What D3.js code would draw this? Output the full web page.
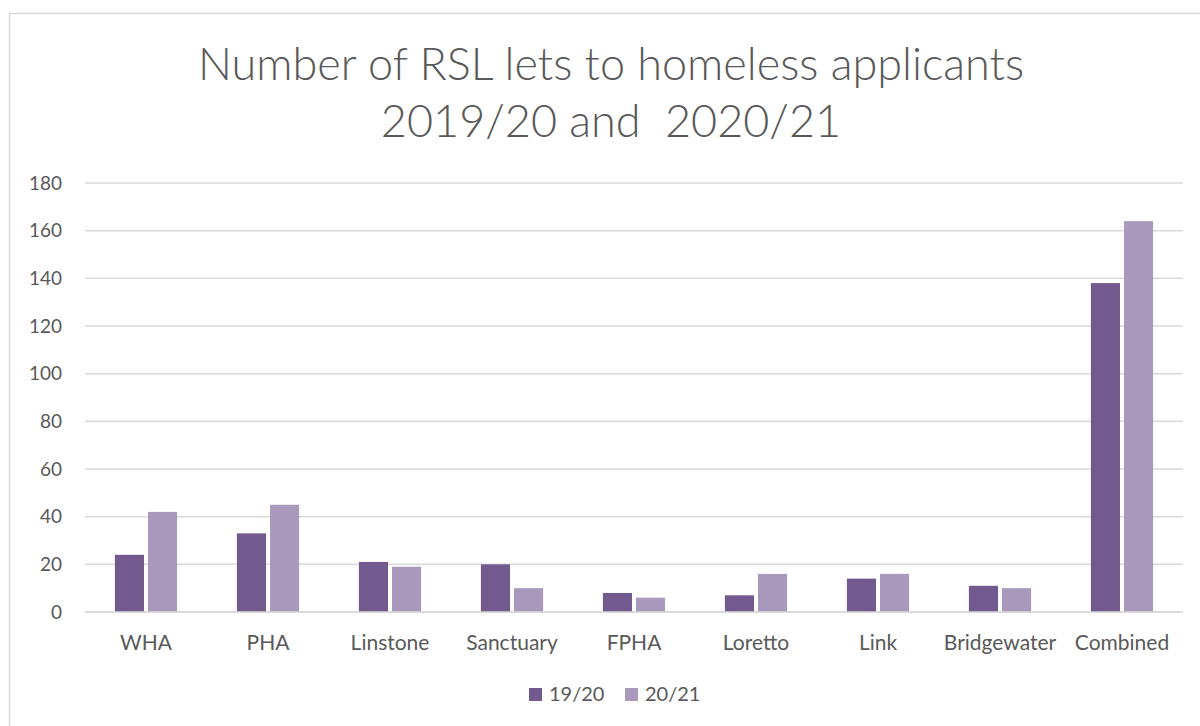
<!DOCTYPE html>
<html>
<head>
<meta charset="utf-8">
<script src="https://cdn.jsdelivr.net/npm/d3@7"></script>
<style>
  body { margin: 0; background: #fff; }
  text { font-family: Lato, "Open Sans", sans-serif; fill: #595959; }
</style>
</head>
<body>
<svg id="chart" width="1200" height="726"></svg>
<script>
// Values
var categories = ["WHA", "PHA", "Linstone", "Sanctuary", "FPHA", "Loretto", "Link", "Bridgewater", "Combined"];
var seriesNames = ["19/20", "20/21"];
var values1920 = [24, 33, 21, 20, 8, 7, 14, 11, 138];
var values2021 = [42, 45, 19, 10, 6, 16, 16, 10, 164];
var yTicks = [0, 20, 40, 60, 80, 100, 120, 140, 160, 180];
var seriesColors = ["#725a8f", "#a99abd"];
var titleLines = ["Number of RSL lets to homeless applicants", "2019/20 and  2020/21"];

var plot = {left: 85, right: 1183, top: 183, bottom: 612};

var svg = d3.select("#chart");

// chart area border (only top/left visible in frame)
svg.append("rect")
  .attr("x", 9.5).attr("y", 13.5)
  .attr("width", 1300).attr("height", 900)
  .attr("fill", "none")
  .attr("stroke", "#d9d9d9")
  .attr("stroke-width", 1.5);

// title
svg.selectAll(".title")
  .data(titleLines)
  .enter().append("text")
  .attr("class", "title")
  .attr("x", 611)
  .attr("y", function(d, i) { return 80 + i * 57; })
  .attr("text-anchor", "middle")
  .style("font-size", "45px")
  .style("font-weight", 300)
  .style("white-space", "pre")
  .text(function(d) { return d; });

// scales
var x = d3.scaleBand()
  .domain(categories)
  .range([plot.left, plot.right])
  .paddingInner(0.49)
  .paddingOuter(0.245);

var y = d3.scaleLinear()
  .domain([0, 180])
  .range([plot.bottom, plot.top]);

var xSub = d3.scaleBand()
  .domain(seriesNames)
  .range([0, x.bandwidth()])
  .paddingInner(0.12);

// gridlines
svg.append("g")
  .selectAll("line")
  .data(yTicks)
  .enter().append("line")
  .attr("x1", plot.left).attr("x2", plot.right)
  .attr("y1", function(d) { return y(d); })
  .attr("y2", function(d) { return y(d); })
  .attr("stroke", "#d9d9d9")
  .attr("stroke-width", 1.5);

// y axis labels
var yAxis = d3.axisLeft(y).tickValues(yTicks).tickSize(0).tickPadding(23);
var gy = svg.append("g")
  .attr("transform", "translate(" + plot.left + ",0)")
  .call(yAxis);
gy.select(".domain").remove();
gy.selectAll("text")
  .style("font-size", "19px")
  .style("font-family", "Lato, 'Open Sans', sans-serif")
  .attr("fill", "#595959");

// bars
var series = [values1920, values2021];
series.forEach(function(vals, si) {
  svg.append("g")
    .selectAll("rect")
    .data(vals)
    .enter().append("rect")
    .attr("x", function(d, i) { return x(categories[i]) + xSub(seriesNames[si]); })
    .attr("y", function(d) { return y(d); })
    .attr("width", xSub.bandwidth())
    .attr("height", function(d) { return y(0) - y(d); })
    .attr("fill", seriesColors[si]);
});

// baseline over bars
svg.append("line")
  .attr("x1", plot.left).attr("x2", plot.right)
  .attr("y1", y(0)).attr("y2", y(0))
  .attr("stroke", "#d9d9d9")
  .attr("stroke-width", 1.5);

// x axis labels
var xCat = d3.scaleBand().domain(categories).range([plot.left, plot.right]);
var xAxis = d3.axisBottom(xCat).tickSize(0).tickPadding(23);
var gx = svg.append("g")
  .attr("transform", "translate(0," + plot.bottom + ")")
  .call(xAxis);
gx.select(".domain").remove();
gx.selectAll("text")
  .style("font-size", "21px")
  .style("font-family", "Lato, 'Open Sans', sans-serif")
  .attr("fill", "#595959");

// legend
var legendX = [529, 625];
var legend = svg.append("g")
  .selectAll("g")
  .data(seriesNames)
  .enter().append("g")
  .attr("transform", function(d, i) { return "translate(" + legendX[i] + ",688)"; });
legend.append("rect")
  .attr("width", 13).attr("height", 13)
  .attr("fill", function(d, i) { return seriesColors[i]; });
legend.append("text")
  .attr("x", 20).attr("y", 13)
  .style("font-size", "20px")
  .text(function(d) { return d; });
</script>
</body>
</html>
